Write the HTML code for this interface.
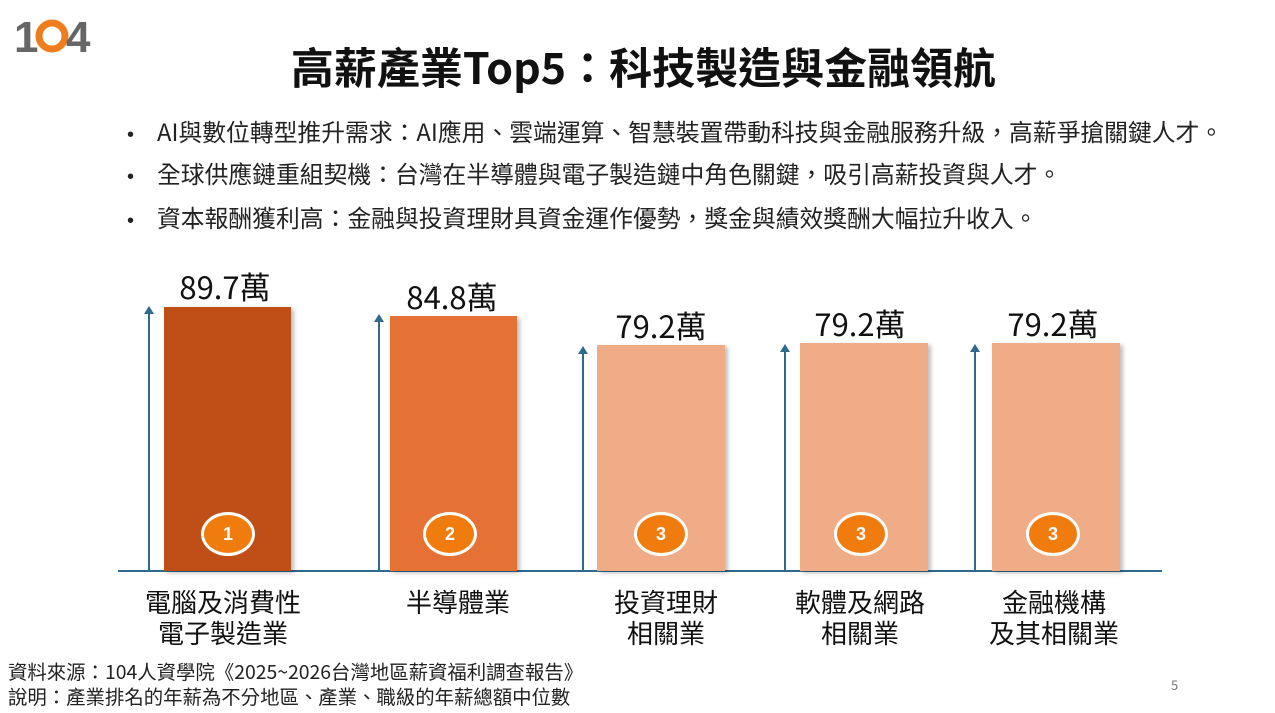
<!DOCTYPE html>
<html><head><meta charset="utf-8"><style>
body{margin:0;width:1275px;height:713px;background:#fff;position:relative;overflow:hidden;font-family:"Noto Sans CJK TC","Liberation Sans",sans-serif;color:#111}
.a{position:absolute;white-space:nowrap}
.title{left:0;width:1287px;text-align:center;top:36px;font-size:43px;line-height:60px;font-weight:bold;color:#111}
.b{left:127px;font-size:23.8px;line-height:30px;color:#222}
.b span{display:inline-block;width:30px;font-family:"Liberation Sans",sans-serif;font-size:20px}
.bar{position:absolute;box-shadow:3px 2px 4px rgba(0,0,0,.25)}
.arr{position:absolute;width:2px;background:#2e6a8e}
.arr:before{content:"";position:absolute;left:-4px;top:-6px;border-left:5px solid transparent;border-right:5px solid transparent;border-bottom:8px solid #2e6a8e}
.val{position:absolute;font-size:31px;line-height:40px;text-align:center;width:200px;color:#111}
.circ{position:absolute;width:48px;height:38px;border:3px solid #fff;border-radius:50%;background:#f07c0e;color:#fff;font-weight:bold;font-size:18px;text-align:center;line-height:38px;font-family:"Liberation Sans",sans-serif}
.cat{position:absolute;font-size:26px;text-align:center;width:240px;line-height:31px;color:#111}
</style></head><body>
<svg class="a" style="left:14px;top:14px" width="84" height="42" viewBox="0 0 84 42">
<text x="0" y="38" font-family="Liberation Sans" font-size="44" font-weight="bold" fill="#666">1</text>
<circle cx="38" cy="22" r="13" fill="none" stroke="#ee7d1d" stroke-width="7"/>
<text x="52" y="38" font-family="Liberation Sans" font-size="44" font-weight="bold" fill="#666">4</text>
</svg>
<div class="a title">高薪產業Top5：科技製造與金融領航</div>
<div class="a b" style="top:116px"><span>•</span>AI與數位轉型推升需求：AI應用、雲端運算、智慧裝置帶動科技與金融服務升級，高薪爭搶關鍵人才。</div>
<div class="a b" style="top:158px"><span>•</span>全球供應鏈重組契機：台灣在半導體與電子製造鏈中角色關鍵，吸引高薪投資與人才。</div>
<div class="a b" style="top:202px"><span>•</span>資本報酬獲利高：金融與投資理財具資金運作優勢，獎金與績效獎酬大幅拉升收入。</div>

<div class="a" style="left:118px;top:570px;width:1044px;height:2px;background:#2e6a8e"></div>

<div class="arr" style="left:148px;top:312px;height:259px"></div>
<div class="bar" style="left:164px;top:307px;width:127px;height:264px;background:#bf4f16"></div>
<div class="val" style="left:125px;top:266px">89.7萬</div>
<div class="circ" style="left:201px;top:512px">1</div>
<div class="cat" style="left:103px;top:586px">電腦及消費性<br>電子製造業</div>

<div class="arr" style="left:378px;top:320px;height:251px"></div>
<div class="bar" style="left:390px;top:316px;width:127px;height:255px;background:#e57234"></div>
<div class="val" style="left:352px;top:276px">84.8萬</div>
<div class="circ" style="left:423px;top:512px">2</div>
<div class="cat" style="left:338px;top:586px">半導體業</div>

<div class="arr" style="left:582px;top:352px;height:219px"></div>
<div class="bar" style="left:597px;top:345px;width:128px;height:226px;background:#f0ac87"></div>
<div class="val" style="left:561px;top:305px">79.2萬</div>
<div class="circ" style="left:634px;top:512px">3</div>
<div class="cat" style="left:546px;top:586px">投資理財<br>相關業</div>

<div class="arr" style="left:784px;top:350px;height:221px"></div>
<div class="bar" style="left:800px;top:343px;width:128px;height:228px;background:#f0ac87"></div>
<div class="val" style="left:760px;top:303px">79.2萬</div>
<div class="circ" style="left:834px;top:512px">3</div>
<div class="cat" style="left:740px;top:586px">軟體及網路<br>相關業</div>

<div class="arr" style="left:974px;top:350px;height:221px"></div>
<div class="bar" style="left:992px;top:343px;width:128px;height:228px;background:#f0ac87"></div>
<div class="val" style="left:953px;top:303px">79.2萬</div>
<div class="circ" style="left:1026px;top:512px">3</div>
<div class="cat" style="left:934px;top:586px">金融機構<br>及其相關業</div>

<div class="a" style="left:8px;top:659px;font-size:19.4px;line-height:24px;color:#222">資料來源：104人資學院《2025~2026台灣地區薪資福利調查報告》</div>
<div class="a" style="left:8px;top:684px;font-size:19.4px;line-height:24px;color:#222">說明：產業排名的年薪為不分地區、產業、職級的年薪總額中位數</div>
<div class="a" style="left:1171px;top:675px;font-size:13px;color:#777">5</div>
</body></html>
